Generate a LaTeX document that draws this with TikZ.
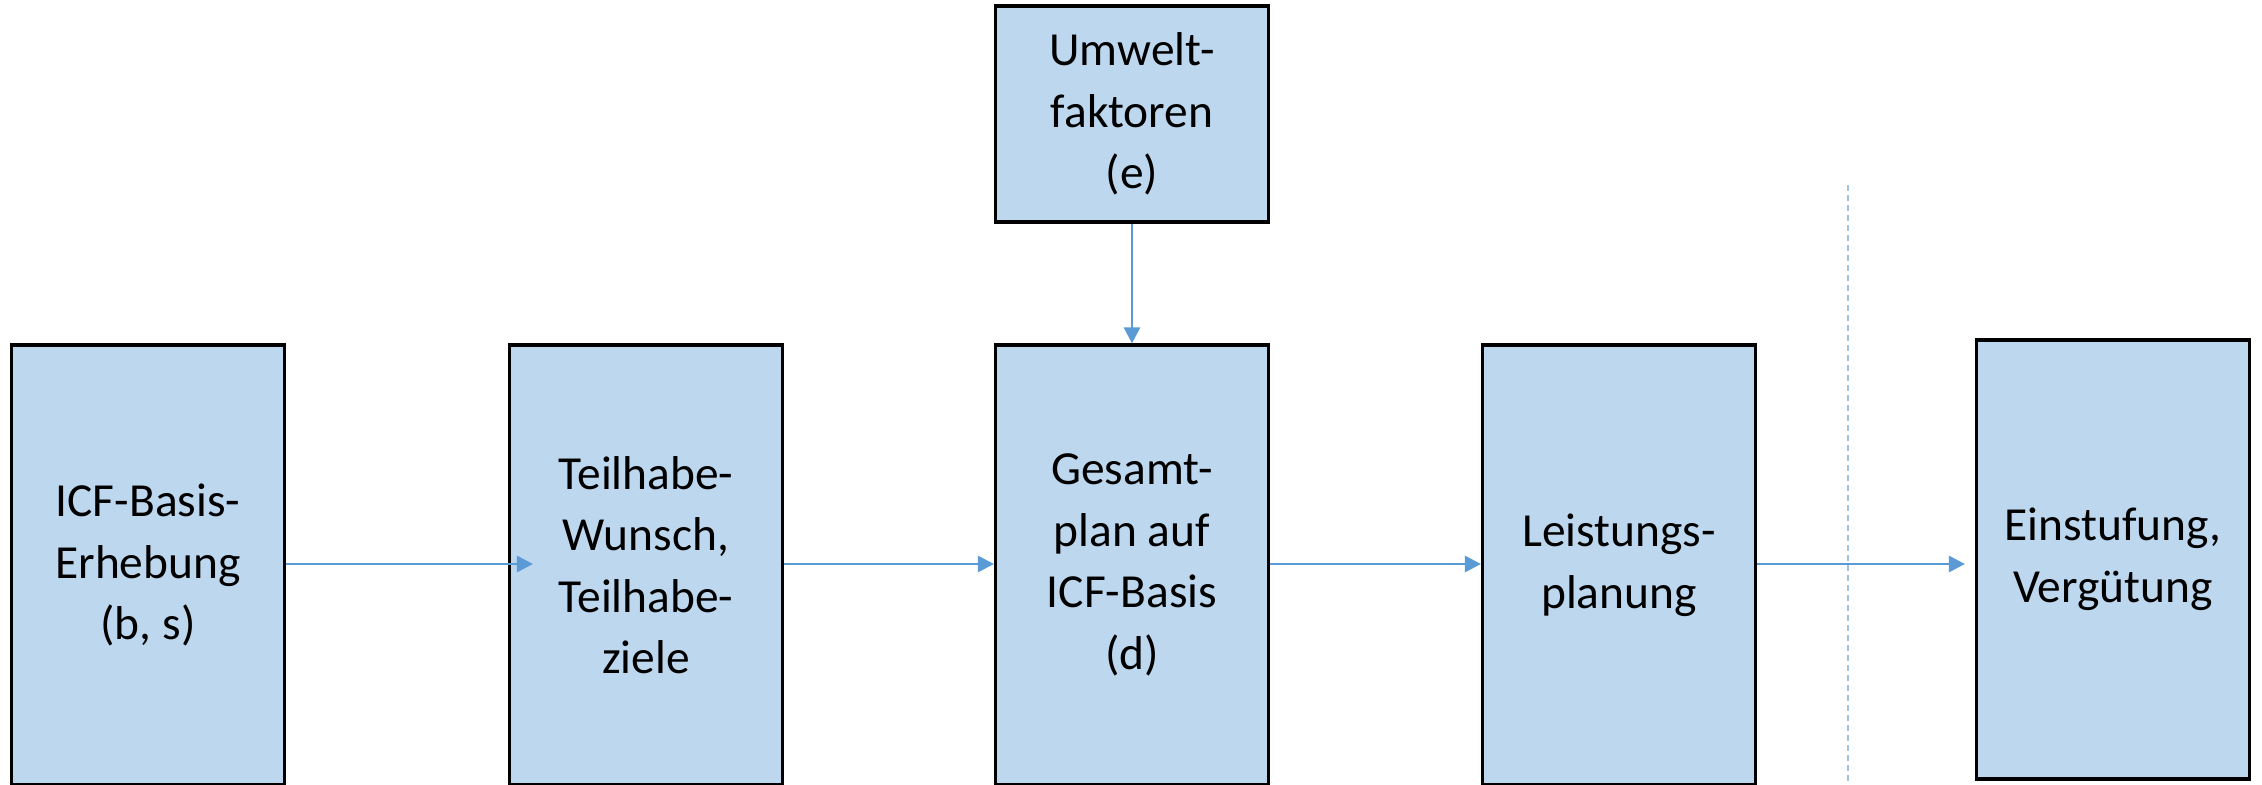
\documentclass[tikz,border=0pt]{standalone}
\usepackage{fontspec}
\setmainfont{Carlito}
\usetikzlibrary{arrows.meta}
\definecolor{boxblue}{HTML}{BDD7EE}
\definecolor{flowblue}{HTML}{5B9BD5}
\definecolor{lineblue}{HTML}{9DC3E6}

\begin{document}
\begin{tikzpicture}[
  phase/.style={draw, rectangle, fill=boxblue, line width=0.9pt, minimum width=2.73cm, minimum height=4.4cm, align=center, inner sep=0pt, font=\fontsize{13.5}{17.5}\selectfont},
  flow/.style={draw=flowblue, line width=0.8pt, -{Triangle[length=0.16cm,width=0.16cm]}}
]
\useasboundingbox (0,0) rectangle (22.62,-7.85);
\clip (0,0) rectangle (22.62,-7.85);

% process steps
\node[phase] (erhebung) at (1.48,-5.65) {ICF-Basis-\\Erhebung\\(b, s)};
\node[phase] (wunsch) at (6.46,-5.65) {Teilhabe-\\Wunsch,\\Teilhabe-\\ziele};
\node[phase] (gesamtplan) at (11.32,-5.65) {Gesamt-\\plan auf\\ICF-Basis\\(d)};
\node[phase] (leistung) at (16.19,-5.65) {Leistungs-\\planung};
\node[phase, minimum height=4.39cm] (einstufung) at (21.13,-5.595) {Einstufung,\\Vergütung};
\node[phase, minimum height=2.16cm] (umwelt) at (11.32,-1.14) {Umwelt-\\faktoren\\(e)};

% divider
\coordinate (cuttop) at (18.48,-1.85);
\coordinate (cutbot) at (18.48,-7.9);
\draw[lineblue, line width=0.5pt, dash pattern=on 0.06cm off 0.04cm] (cuttop) -- (cutbot);

% connectors
\draw[flow, shorten >=-0.25cm] (erhebung.east |- 0,-5.64) -- (wunsch.west |- 0,-5.64);
\draw[flow] (wunsch.east |- 0,-5.64) -- (gesamtplan.west |- 0,-5.64);
\draw[flow] (gesamtplan.east |- 0,-5.64) -- (leistung.west |- 0,-5.64);
\draw[flow, shorten >=0.1cm] (leistung.east |- 0,-5.64) -- (einstufung.west |- 0,-5.64);
\draw[flow] (umwelt) -- (gesamtplan);
\end{tikzpicture}
\end{document}
